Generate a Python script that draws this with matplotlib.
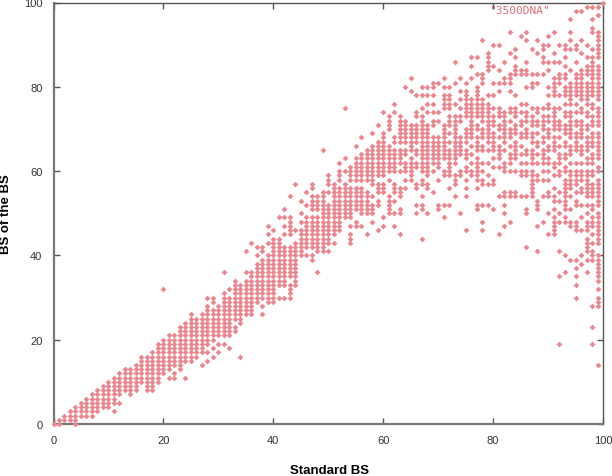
import matplotlib
matplotlib.use("Agg")
import matplotlib.pyplot as plt

bs_of_bs = [
    [0], [0, 1], [1, 2], [1, 2, 3], [0, 1, 2, 3, 4], [2, 3, 4, 5], [2, 3, 4, 5, 6],
    [2, 3, 4, 5, 6, 7], [3, 4, 5, 6, 7, 8], [4, 5, 6, 7, 8, 9], [4, 5, 6, 7, 8, 9, 10],
    [3, 5, 6, 7, 8, 9, 10, 11], [5, 7, 8, 9, 10, 11, 12], [8, 9, 10, 11, 12, 13],
    [7, 8, 9, 10, 11, 12, 13], [8, 9, 10, 11, 12, 13, 14], [10, 11, 12, 13, 14, 15, 16],
    [8, 9, 10, 11, 12, 13, 14, 15, 16], [8, 9, 10, 11, 12, 13, 14, 15, 16, 17],
    [10, 11, 12, 13, 14, 15, 16, 17, 18, 19],
    [12, 13, 14, 15, 16, 17, 18, 19, 20, 32],
    [11, 13, 14, 15, 16, 17, 18, 19, 20, 21],
    [11, 12, 14, 15, 16, 17, 18, 19, 20, 21],
    [13, 14, 15, 16, 17, 18, 19, 20, 21, 22, 23],
    [11, 15, 16, 17, 18, 19, 20, 21, 22, 23, 24],
    [15, 16, 17, 18, 19, 20, 21, 22, 23, 24, 25, 26],
    [16, 17, 18, 19, 20, 21, 22, 23, 24, 25],
    [14, 17, 18, 19, 20, 21, 22, 23, 24, 25, 26],
    [15, 17, 19, 20, 21, 22, 23, 24, 25, 26, 27, 28, 30],
    [16, 18, 20, 21, 22, 23, 24, 25, 26, 27, 29, 30],
    [17, 19, 21, 22, 23, 24, 25, 26, 27, 28],
    [19, 21, 22, 23, 24, 25, 26, 27, 28, 29, 30, 31, 36],
    [18, 21, 22, 23, 24, 25, 26, 27, 28, 29, 30, 32],
    [22, 23, 25, 26, 27, 28, 29, 30, 31, 32, 33, 34],
    [16, 24, 25, 26, 27, 28, 29, 30, 31, 32, 33],
    [26, 27, 28, 29, 30, 31, 32, 33, 34, 36, 41],
    [26, 27, 28, 29, 30, 31, 32, 33, 34, 35, 36, 43],
    [29, 30, 31, 32, 33, 34, 35, 36, 37, 38, 40, 42],
    [26, 28, 30, 31, 32, 33, 34, 35, 36, 37, 38, 39, 41, 42],
    [29, 30, 31, 32, 33, 34, 35, 36, 37, 38, 39, 40, 43, 45, 47],
    [29, 30, 31, 32, 33, 34, 35, 36, 37, 38, 39, 40, 41, 42, 43, 44, 46],
    [30, 33, 34, 35, 36, 37, 38, 39, 40, 41, 42, 43, 44, 49],
    [30, 33, 34, 35, 36, 37, 38, 39, 40, 41, 42, 45, 47, 49, 51],
    [30, 31, 32, 33, 35, 36, 37, 38, 39, 40, 41, 42, 45, 46, 47, 48, 49, 54],
    [33, 34, 35, 36, 37, 38, 39, 40, 41, 42, 43, 46, 57],
    [40, 41, 42, 43, 44, 45, 46, 48, 50, 53],
    [40, 42, 43, 44, 45, 46, 47, 48, 49, 52, 55],
    [39, 40, 42, 43, 44, 45, 46, 47, 48, 49, 51, 52, 53, 54, 56, 57],
    [36, 41, 42, 43, 44, 45, 46, 47, 48, 49, 51, 52, 53, 54],
    [41, 42, 43, 44, 45, 46, 47, 48, 49, 50, 51, 52, 53, 54, 55, 65],
    [41, 43, 44, 45, 46, 47, 48, 49, 50, 51, 52, 55, 57, 58, 59],
    [43, 45, 46, 47, 48, 49, 50, 51, 52, 53, 54, 55, 56, 57],
    [46, 47, 48, 49, 50, 51, 52, 53, 54, 55, 56, 58, 59, 60, 62],
    [49, 50, 51, 52, 53, 54, 55, 56, 57, 60, 63, 75],
    [43, 44, 45, 47, 49, 50, 51, 52, 53, 54, 55, 56, 58, 59, 60, 61],
    [47, 48, 51, 52, 53, 54, 55, 56, 58, 59, 60, 61, 62, 63, 66],
    [47, 50, 51, 52, 53, 54, 55, 56, 58, 59, 60, 61, 62, 63, 64, 68],
    [45, 50, 51, 52, 53, 54, 55, 58, 59, 60, 61, 62, 63, 64, 65],
    [48, 50, 51, 52, 54, 57, 58, 59, 60, 61, 62, 63, 64, 65, 66, 69],
    [46, 52, 53, 55, 56, 57, 59, 60, 61, 62, 63, 64, 65, 66, 67, 71],
    [47, 49, 55, 56, 57, 59, 60, 61, 62, 63, 64, 65, 66, 67, 68, 69, 74],
    [50, 51, 52, 53, 54, 58, 60, 61, 62, 63, 64, 65, 66, 70, 71, 72, 73],
    [47, 50, 53, 55, 56, 57, 60, 61, 62, 63, 64, 65, 67, 68, 74, 76],
    [45, 50, 51, 54, 55, 56, 60, 62, 63, 64, 65, 67, 68, 69, 70, 71, 72, 73],
    [56, 58, 60, 61, 62, 64, 65, 67, 68, 69, 70, 71, 72, 80],
    [58, 59, 60, 61, 62, 63, 65, 66, 67, 68, 69, 70, 71, 79, 82],
    [50, 52, 56, 57, 61, 62, 64, 65, 67, 68, 69, 70, 71, 73, 74, 78],
    [44, 51, 52, 54, 57, 58, 60, 61, 62, 63, 64, 65, 66, 67, 68, 69, 70, 71, 72, 73, 75, 78, 80],
    [50, 56, 57, 59, 60, 61, 62, 63, 64, 65, 66, 67, 68, 69, 70, 71, 74, 76, 78, 80],
    [55, 60, 62, 63, 64, 65, 66, 67, 68, 71, 72, 74, 76, 78, 80, 81],
    [51, 52, 58, 61, 62, 63, 64, 65, 66, 67, 68, 72, 74, 81],
    [49, 52, 59, 60, 63, 64, 65, 66, 67, 68, 69, 70, 71, 75, 76, 77, 78, 80, 82],
    [52, 56, 59, 60, 61, 62, 63, 64, 65, 67, 69, 71, 72, 73, 75, 76, 77, 78, 80],
    [54, 57, 58, 59, 62, 63, 64, 65, 66, 67, 68, 69, 70, 71, 72, 73, 76, 81, 86],
    [50, 59, 60, 64, 65, 66, 67, 68, 72, 73, 75, 77, 79, 82],
    [46, 54, 56, 58, 60, 61, 63, 64, 65, 67, 68, 69, 70, 73, 74, 75, 76, 77, 78, 79, 81],
    [59, 60, 62, 64, 66, 68, 69, 70, 71, 72, 73, 74, 75, 76, 77, 82, 85, 87],
    [51, 52, 56, 58, 59, 60, 61, 62, 63, 65, 66, 67, 68, 70, 71, 73, 74, 75, 76, 77, 78, 79, 80, 83, 87],
    [46, 48, 52, 57, 58, 60, 62, 65, 66, 68, 69, 70, 72, 73, 74, 75, 76, 77, 81, 82, 83, 91],
    [52, 57, 59, 62, 65, 67, 68, 69, 70, 71, 72, 73, 74, 75, 76, 78, 84, 85, 86, 87, 88],
    [51, 57, 58, 61, 63, 65, 66, 67, 68, 69, 71, 72, 73, 75, 78, 81, 85, 90],
    [45, 54, 61, 63, 64, 65, 66, 68, 70, 71, 73, 74, 75, 79, 81, 84, 90],
    [47, 50, 52, 54, 55, 60, 61, 62, 65, 67, 68, 69, 70, 71, 72, 73, 74, 81, 82, 86],
    [48, 54, 55, 60, 62, 63, 64, 66, 68, 69, 70, 72, 74, 75, 79, 81, 82, 83, 88, 93],
    [54, 55, 60, 63, 64, 65, 66, 67, 69, 70, 71, 73, 74, 75, 78, 83, 84, 85, 87, 89],
    [54, 59, 60, 62, 64, 66, 68, 69, 71, 72, 74, 76, 83, 84, 92],
    [42, 50, 51, 54, 59, 60, 62, 64, 65, 68, 69, 70, 72, 73, 74, 76, 80, 83, 84, 86, 91, 93],
    [54, 55, 56, 57, 58, 59, 60, 62, 63, 64, 65, 67, 68, 69, 71, 72, 73, 75, 80, 81, 83, 89],
    [41, 47, 51, 52, 53, 58, 59, 62, 64, 66, 67, 69, 71, 72, 74, 75, 81, 83, 88, 91],
    [48, 54, 58, 60, 62, 63, 64, 65, 67, 68, 70, 71, 72, 73, 75, 83, 86, 87, 89, 90],
    [45, 50, 54, 55, 58, 60, 62, 63, 65, 66, 68, 69, 70, 72, 73, 75, 76, 78, 80, 84, 86, 90, 92],
    [45, 46, 47, 48, 49, 51, 53, 54, 56, 59, 61, 62, 65, 66, 67, 68, 70, 71, 72, 73, 74, 75, 78, 79, 80, 81, 82, 86, 88, 93],
    [19, 35, 41, 48, 50, 53, 55, 59, 60, 62, 63, 64, 66, 68, 70, 71, 72, 75, 78, 81, 82, 83, 86, 90],
    [36, 40, 48, 49, 51, 52, 53, 54, 55, 56, 57, 58, 60, 61, 63, 64, 66, 67, 69, 70, 71, 73, 74, 76, 78, 79, 80, 82, 83, 85, 87, 89, 90],
    [39, 47, 48, 51, 54, 56, 57, 58, 59, 60, 62, 64, 65, 66, 68, 69, 70, 71, 72, 73, 74, 76, 77, 78, 79, 80, 81, 84, 89, 91, 93, 96],
    [30, 33, 35, 37, 39, 46, 47, 48, 52, 53, 55, 57, 58, 59, 60, 62, 65, 66, 67, 68, 69, 71, 72, 74, 76, 78, 79, 80, 81, 82, 83, 86, 89, 90, 98],
    [38, 40, 46, 49, 52, 55, 56, 58, 59, 60, 62, 64, 65, 66, 68, 69, 70, 71, 72, 74, 75, 77, 78, 79, 80, 81, 82, 83, 84, 88, 91, 98],
    [36, 39, 41, 42, 43, 44, 46, 47, 48, 50, 52, 54, 55, 56, 57, 58, 59, 60, 62, 63, 65, 66, 67, 68, 70, 71, 73, 74, 76, 77, 78, 79, 80, 81, 83, 84, 85, 87, 90, 99],
    [19, 23, 28, 39, 40, 41, 43, 45, 47, 48, 49, 51, 52, 54, 55, 56, 57, 59, 60, 62, 63, 64, 66, 67, 68, 69, 71, 72, 73, 75, 76, 78, 79, 80, 81, 82, 83, 84, 85, 86, 87, 89, 93, 94, 96, 99],
    [14, 28, 29, 30, 32, 34, 35, 36, 37, 38, 39, 40, 43, 44, 45, 46, 47, 48, 49, 50, 52, 53, 54, 55, 56, 57, 58, 60, 61, 63, 64, 65, 66, 67, 68, 69, 71, 72, 73, 74, 75, 77, 78, 79, 80, 81, 82, 83, 84, 85, 87, 88, 89, 90, 91, 92, 93, 97, 99],
    [100],
]
x_ticks = [0, 20, 40, 60, 80, 100]
y_ticks = [0, 20, 40, 60, 80, 100]

plt.rcParams["font.family"] = ["Liberation Sans", "DejaVu Sans"]

fig = plt.figure(figsize=(6.12, 4.77), dpi=100)
ax = fig.add_axes([53.5 / 612, 1 - 425 / 477, 549.5 / 612, 421.5 / 477])

xs = []
ys = []
for x, column in enumerate(bs_of_bs):
    for y in column:
        xs.append(x)
        ys.append(y)

ax.scatter(xs, ys, marker="D", s=8.5, color="#ec868e", linewidths=0, clip_on=False, zorder=3)
ax.set_xlim(0, 100)
ax.set_ylim(0, 100)
ax.set_xticks(x_ticks)
ax.set_yticks(y_ticks)
ax.tick_params(direction="in", length=4, width=1, color="#555555", labelsize=8, labelcolor="#333333",
               pad=8, top=True, right=True)

ax.spines["left"].set_linewidth(1.6)
ax.spines["bottom"].set_linewidth(1.6)
ax.spines["left"].set_color("#777777")
ax.spines["bottom"].set_color("#777777")
ax.spines["top"].set_linewidth(1)
ax.spines["right"].set_linewidth(1)
ax.spines["top"].set_color("#555555")
ax.spines["right"].set_color("#555555")

fig.text(330 / 612, 1 - 471 / 477, "Standard BS", fontsize=9.5, fontweight="bold", ha="center", va="center")
fig.text(6.5 / 612, 1 - 214 / 477, "BS of the BS", fontsize=9.5, fontweight="bold", rotation=90,
         ha="center", va="center")

ax.text(489 / 612, 1 - 11 / 477, '"3500DNA"', transform=fig.transFigure, color="#e06a74",
        fontsize=8, family="DejaVu Sans Mono", va="center", ha="left")

fig.savefig("out.png", dpi=100)
